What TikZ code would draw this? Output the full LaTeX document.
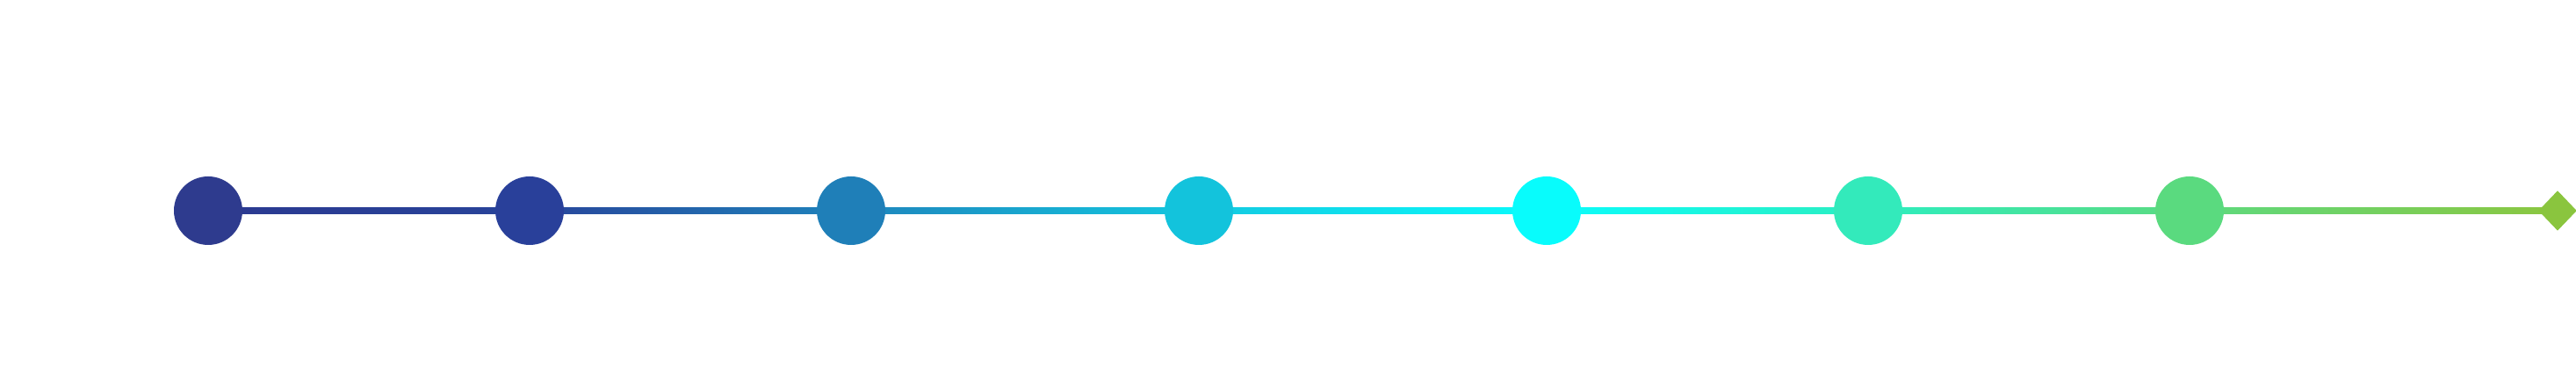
\documentclass[tikz,border=0pt]{standalone}
\usepackage{tikz}
\usetikzlibrary{positioning}
\usetikzlibrary{shapes.geometric}
\usetikzlibrary{backgrounds}

\definecolor{stageA}{HTML}{2E3B8E}
\definecolor{stageB}{HTML}{29409A}
\definecolor{stageC}{HTML}{1F7FB8}
\definecolor{stageD}{HTML}{13C3DC}
\definecolor{stageE}{HTML}{08FCFC}
\definecolor{stageF}{HTML}{33EABB}
\definecolor{stageG}{HTML}{5ADA7F}
\definecolor{stageEnd}{HTML}{8AC53E}

\definecolor{lineA}{HTML}{2B3990}
\definecolor{lineB}{HTML}{28449A}
\definecolor{lineC}{HTML}{1E84BC}
\definecolor{lineD}{HTML}{14C8E0}
\definecolor{lineE}{HTML}{0AFCFC}
\definecolor{lineF}{HTML}{2CEEC0}
\definecolor{lineG}{HTML}{5CDA80}
\definecolor{lineEnd}{HTML}{8CC63F}

\tikzset{
  stagedot/.style={circle, inner sep=0pt, minimum size=0.78cm, fill=#1},
  stageend/.style={diamond, inner sep=0pt, minimum width=0.44cm, minimum height=0.46cm, fill=#1},
}

\begin{document}
\begin{tikzpicture}
  \useasboundingbox (0,0) rectangle (29.33,4.34);

  \node[stagedot=stageA] (sa) at (2.37,1.94) {};
  \node[stagedot=stageB] (sb) at ([xshift=3.66cm]sa) {};
  \node[stagedot=stageC] (sc) at ([xshift=3.66cm]sb) {};
  \node[stagedot=stageD] (sd) at ([xshift=3.96cm]sc) {};
  \node[stagedot=stageE] (se) at ([xshift=3.96cm]sd) {};
  \node[stagedot=stageF] (sf) at ([xshift=3.66cm]se) {};
  \node[stagedot=stageG] (sg) at ([xshift=3.66cm]sf) {};
  \node[stageend=stageEnd] (fin) at ([xshift=4.19cm]sg) {};

  \begin{scope}[on background layer]
    \shade[left color=lineA, right color=lineB] ([yshift=-.035cm]sa.center) rectangle ([yshift=.035cm]sb.center);
    \shade[left color=lineB, right color=lineC] ([yshift=-.035cm]sb.center) rectangle ([yshift=.035cm]sc.center);
    \shade[left color=lineC, right color=lineD] ([yshift=-.035cm]sc.center) rectangle ([yshift=.035cm]sd.center);
    \shade[left color=lineD, right color=lineE] ([yshift=-.035cm]sd.center) rectangle ([yshift=.035cm]se.center);
    \shade[left color=lineE, right color=lineF] ([yshift=-.035cm]se.center) rectangle ([yshift=.035cm]sf.center);
    \shade[left color=lineF, right color=lineG] ([yshift=-.035cm]sf.center) rectangle ([yshift=.035cm]sg.center);
    \shade[left color=lineG, right color=lineEnd] ([yshift=-.035cm]sg.center) rectangle ([yshift=.035cm]fin.center);
  \end{scope}
\end{tikzpicture}
\end{document}
